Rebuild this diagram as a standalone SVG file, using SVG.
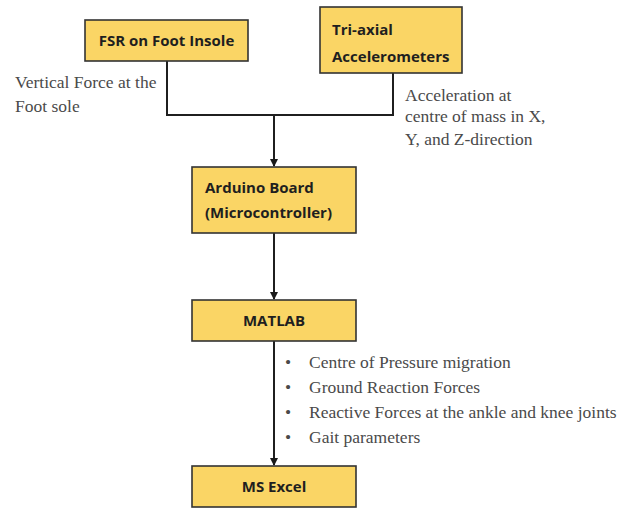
<svg xmlns="http://www.w3.org/2000/svg" width="633" height="511" viewBox="0 0 633 511">
<defs>
<marker id="arr" markerWidth="8" markerHeight="10" refX="7" refY="4" orient="auto" markerUnits="userSpaceOnUse">
<path d="M0,0 L8,4 L0,8 Z" fill="#1a1a1a"/>
</marker>
</defs>
<style>
.box{fill:#FAD565;stroke:#333;stroke-width:1.6}
.bt{font-family:"Open Sans","Liberation Sans",sans-serif;font-weight:bold;font-size:15px;fill:#1f1f1f}
.lbl{font-family:"Liberation Serif",serif;font-size:17.5px;fill:#4a4a4a}
.ln{fill:none;stroke:#1f1f1f;stroke-width:2}
</style>
<rect width="633" height="511" fill="#fff"/>
<g id="connectors">
<path class="ln" d="M167,61 V115 H393 V73"/>
<path class="ln" d="M274,115 V166" marker-end="url(#arr)"/>
<path class="ln" d="M274,233 V299" marker-end="url(#arr)"/>
<path class="ln" d="M274,341 V465" marker-end="url(#arr)"/>
</g>
<g id="fsr">
<rect class="box" x="85" y="20" width="163" height="41"/>
<text class="bt" x="166.5" y="46" text-anchor="middle">FSR on Foot Insole</text>
</g>
<g id="tri">
<rect class="box" x="320" y="7" width="142" height="66"/>
<text class="bt" x="332" y="35">Tri-axial</text>
<text class="bt" x="332" y="62">Accelerometers</text>
</g>
<g id="arduino">
<rect class="box" x="192" y="167" width="164" height="66"/>
<text class="bt" x="205" y="193">Arduino Board</text>
<text class="bt" x="205" y="218">(Microcontroller)</text>
</g>
<g id="matlab">
<rect class="box" x="192" y="300" width="164" height="41"/>
<text class="bt" x="274" y="326" text-anchor="middle">MATLAB</text>
</g>
<g id="excel">
<rect class="box" x="192" y="466" width="164" height="41"/>
<text class="bt" x="274" y="492" text-anchor="middle">MS Excel</text>
</g>
<g id="labels">
<text class="lbl" x="15" y="88">Vertical Force at the</text>
<text class="lbl" x="15" y="112">Foot sole</text>
<text class="lbl" x="405" y="101">Acceleration at</text>
<text class="lbl" x="405" y="122">centre of mass in X,</text>
<text class="lbl" x="405" y="145">Y, and Z-direction</text>
<text class="lbl" x="285" y="368">•</text>
<text class="lbl" x="309" y="368">Centre of Pressure migration</text>
<text class="lbl" x="285" y="393">•</text>
<text class="lbl" x="309" y="393">Ground Reaction Forces</text>
<text class="lbl" x="285" y="418">•</text>
<text class="lbl" x="309" y="418">Reactive Forces at the ankle and knee joints</text>
<text class="lbl" x="285" y="443">•</text>
<text class="lbl" x="309" y="443">Gait parameters</text>
</g>
</svg>
